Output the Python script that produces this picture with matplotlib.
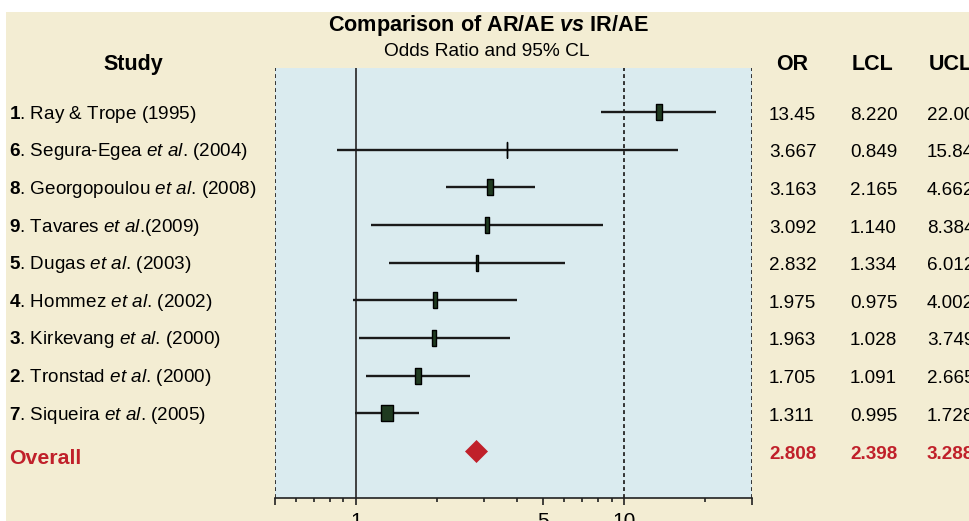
import numpy as np
import matplotlib.pyplot as plt
from matplotlib.patches import Rectangle
from matplotlib.transforms import blended_transform_factory, offset_copy
from matplotlib.ticker import FixedLocator, NullFormatter

plt.rcParams['font.family'] = 'Liberation Sans'
plt.rcParams['mathtext.fontset'] = 'custom'
plt.rcParams['mathtext.rm'] = 'Liberation Sans'
plt.rcParams['mathtext.it'] = 'Liberation Sans:italic'
plt.rcParams['mathtext.bf'] = 'Liberation Sans:bold'
plt.rcParams['mathtext.bfit'] = 'Liberation Sans:bold:italic'

# data, top to bottom
study_no = ['1', '6', '8', '9', '5', '4', '3', '2', '7']
authors = ['Ray & Trope', 'Segura-Egea', 'Georgopoulou', 'Tavares', 'Dugas',
           'Hommez', 'Kirkevang', 'Tronstad', 'Siqueira']
has_etal = [False, True, True, True, True, True, True, True, True]
years = ['(1995)', '(2004)', '(2008)', '(2009)', '(2003)', '(2002)', '(2000)', '(2000)', '(2005)']
odds = [13.45, 3.667, 3.163, 3.092, 2.832, 1.975, 1.963, 1.705, 1.311]
lcl = [8.220, 0.849, 2.165, 1.140, 1.334, 0.975, 1.028, 1.091, 0.995]
ucl = [22.00, 15.84, 4.662, 8.384, 6.012, 4.002, 3.749, 2.665, 1.728]
weights = [7, 1, 7, 4, 3, 5, 4, 7, 13]   # relative box width
or_txt = ['13.45', '3.667', '3.163', '3.092', '2.832', '1.975', '1.963', '1.705', '1.311']
lcl_txt = ['8.220', '0.849', '2.165', '1.140', '1.334', '0.975', '1.028', '1.091', '0.995']
ucl_txt = ['22.00', '15.84', '4.662', '8.384', '6.012', '4.002', '3.749', '2.665', '1.728']
overall = [2.808, 2.398, 3.288]
overall_txt = ['2.808', '2.398', '3.288']

beige = '#F3EDD3'
blue = '#DAEBEF'
red = '#C0202A'

fig = plt.figure(figsize=(9.7, 5.21), dpi=100)
fig.patch.set_facecolor('white')
fig.add_artist(Rectangle((6 / 970, 0), 1, (521 - 12) / 521, transform=fig.transFigure,
                         facecolor=beige, edgecolor='none', zorder=0))

ax = fig.add_axes([275 / 970, 23 / 521, 477 / 970, 430 / 521])
ax.set_facecolor(blue)
ax.set_xscale('log')
ax.set_xlim(0.5, 30)
ax.set_ylim(11.25, -0.17)

for s in ['top', 'left', 'right']:
    ax.spines[s].set_visible(False)
ax.spines['bottom'].set_linewidth(1.2)
ax.spines['bottom'].set_color('#222222')

ax.xaxis.set_major_locator(FixedLocator([0.5, 1, 5, 10, 30]))
ax.xaxis.set_minor_locator(FixedLocator([0.6, 0.7, 0.8, 0.9, 2, 3, 4, 6, 7, 8, 9, 20]))
ax.set_xticklabels(['', '1', '5', '10', ''])
ax.xaxis.set_minor_formatter(NullFormatter())
ax.tick_params(axis='x', which='major', length=5, width=1.2, labelsize=15, pad=5, color='#222222')
ax.tick_params(axis='x', which='minor', length=3, width=1.2, color='#222222')
ax.set_yticks([])

# reference lines
ax.axvline(1, color='#333333', lw=1.3, zorder=1)
for xv in [0.5, 10, 30]:
    ax.axvline(xv, color='#333333', lw=1.4, ls=(0, (2, 1.6)), zorder=1)

ypos = np.arange(1, len(odds) + 1)
for y, o, lo, hi, w in zip(ypos, odds, lcl, ucl, weights):
    ax.plot([lo, hi], [y, y], color='#1a1a1a', lw=1.7, solid_capstyle='butt', zorder=2)
    verts = [(-w / 2, -8.5), (w / 2, -8.5), (w / 2, 8.5), (-w / 2, 8.5), (-w / 2, -8.5)]
    ax.plot([o], [y], marker=verts, ms=12.2, mfc='#1F3A20', mec='black', mew=1.0,
            ls='none', zorder=3)

y_all = len(odds) + 1
ax.plot([overall[0]], [y_all], marker='D', ms=11.6, mfc=red, mec=red, mew=0.5,
        ls='none', zorder=3)

# text columns (baselines shifted down in pixels from the row centre)
tr = blended_transform_factory(fig.transFigure, ax.transData)
tr_lab = offset_copy(tr, fig, y=-6.5, units='dots')
tr_num = offset_copy(tr, fig, y=-7.5, units='dots')
tr_all = offset_copy(tr, fig, y=-13, units='dots')
tr_alln = offset_copy(tr, fig, y=-8, units='dots')
fs = 13.6
for y, n, a, e, yr in zip(ypos, study_no, authors, has_etal, years):
    if e:
        sep = '' if n == '9' else ' '
        lab = r'$\mathbf{%s}$. %s $\mathit{et\ al}$.%s%s' % (n, a, sep, yr)
    else:
        lab = r'$\mathbf{%s}$. %s %s' % (n, a, yr)
    fig.text(9 / 970, y, lab, transform=tr_lab, fontsize=fs, va='baseline', ha='left')
fig.text(9 / 970, y_all, 'Overall', transform=tr_all, fontsize=15.3, fontweight='bold',
         color=red, va='baseline', ha='left')

cols = [769 / 970, 850 / 970, 927 / 970]
for y, a, b, c in zip(ypos, or_txt, lcl_txt, ucl_txt):
    for xc, t in zip(cols, [a, b, c]):
        fig.text(xc, y, t, transform=tr_num, fontsize=fs, va='baseline', ha='left')
for xc, t in zip(cols, overall_txt):
    fig.text(xc, y_all, t, transform=tr_alln, fontsize=fs, va='baseline', ha='left',
             fontweight='bold', color=red)

# headers
hy = 1 - 70 / 521
fig.text(133 / 970, hy, 'Study', fontsize=15.5, fontweight='bold', ha='center', va='baseline')
fig.text(792 / 970, hy, 'OR', fontsize=15.5, fontweight='bold', ha='center', va='baseline')
fig.text(873 / 970, hy, 'LCL', fontsize=15.5, fontweight='bold', ha='center', va='baseline')
fig.text(929 / 970, hy, 'UCL', fontsize=15.5, fontweight='bold', ha='left', va='baseline')

fig.text(488 / 970, 1 - 30.5 / 521, r'Comparison of AR/AE $\mathbfit{vs}$ IR/AE',
         fontsize=15.6, fontweight='bold', ha='center', va='baseline')
fig.text(487 / 970, 1 - 56 / 521, 'Odds Ratio and 95% CL', fontsize=13.8,
         ha='center', va='baseline')

fig.savefig('out.png', dpi=100)
